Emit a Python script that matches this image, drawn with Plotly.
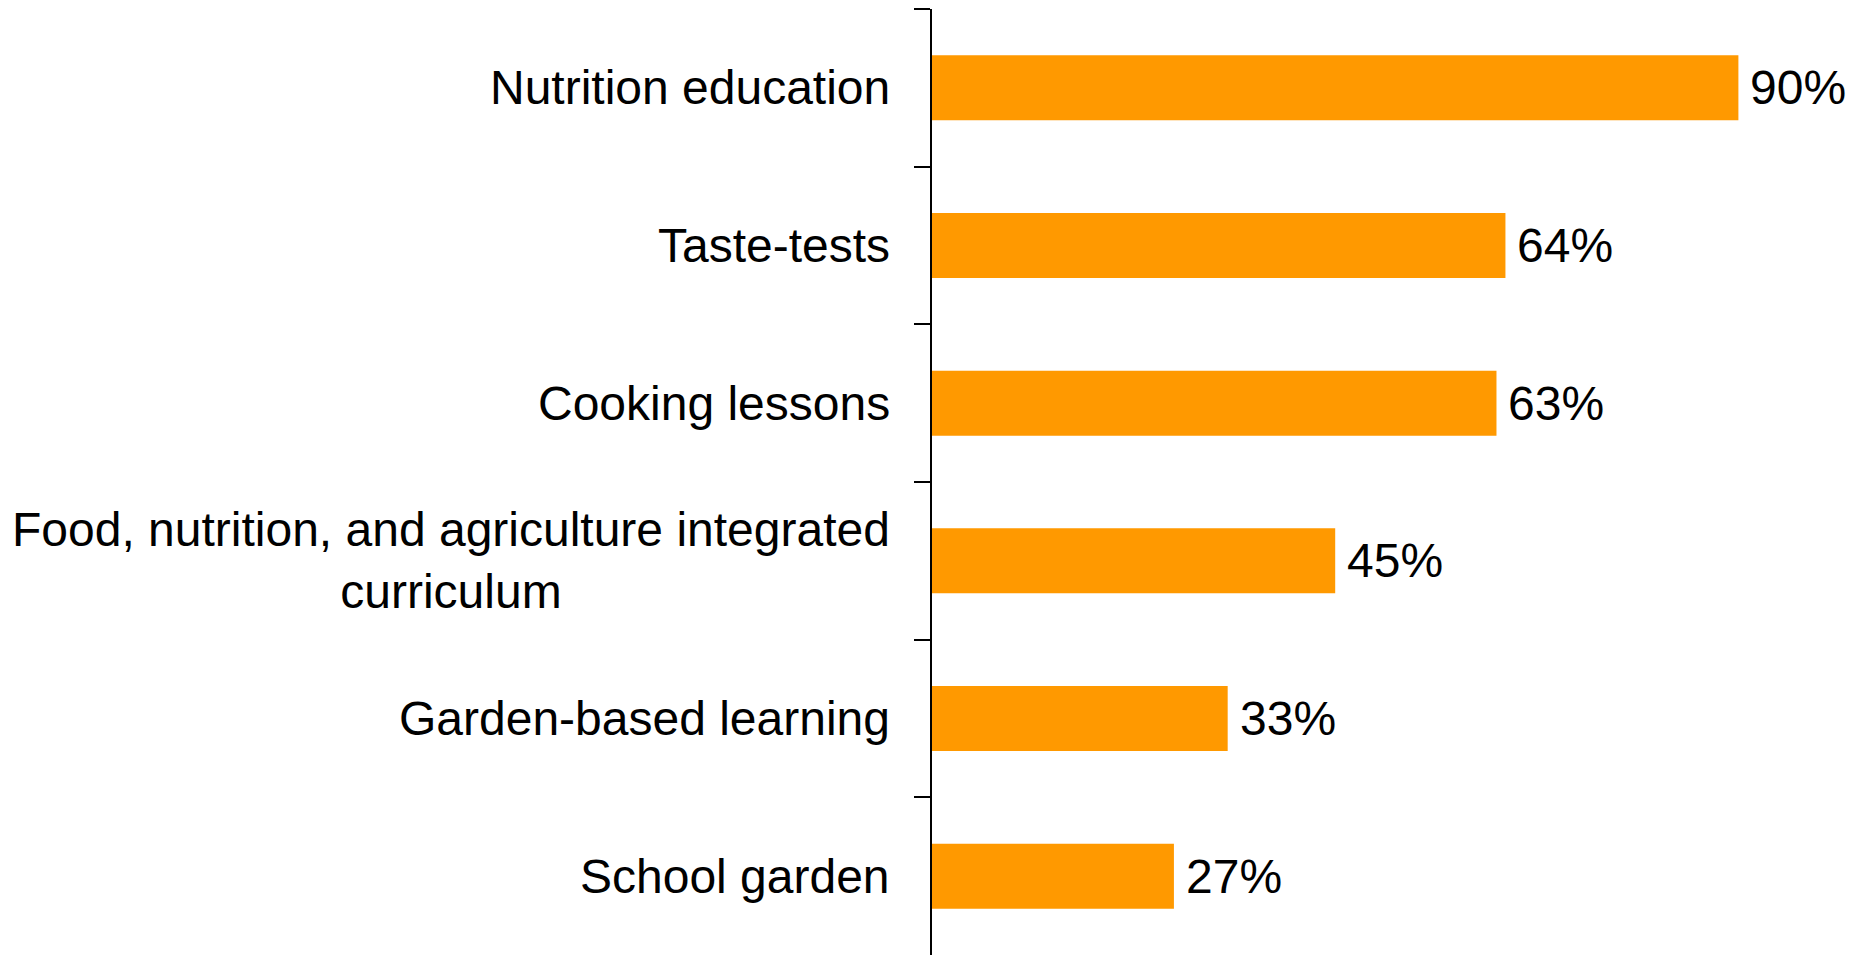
import plotly.graph_objects as go

categories = [
    "Nutrition education",
    "Taste-tests",
    "Cooking lessons",
    "Food, nutrition, and agriculture integrated curriculum",
    "Garden-based learning",
    "School garden",
]
category_labels = [
    "Nutrition education",
    "Taste-tests",
    "Cooking lessons",
    "Food, nutrition, and agriculture integrated<br>curriculum",
    "Garden-based learning",
    "School garden",
]
values = [90, 64, 63, 45, 33, 27]
value_labels = ["90%", "64%", "63%", "45%", "33%", "27%"]

FONT = "Arial, Liberation Sans, sans-serif"
BAR_COLOR = "#FF9900"

fig = go.Figure()
fig.add_trace(go.Bar(
    x=values,
    y=categories,
    orientation="h",
    marker=dict(color=BAR_COLOR, line=dict(width=0)),
    hoverinfo="skip",
))

for cat, lab in zip(categories, category_labels):
    fig.add_annotation(
        x=0, xref="paper", y=cat, yref="y",
        text=lab, showarrow=False,
        xanchor="right", yanchor="middle", align="center",
        xshift=-40,
        font=dict(family=FONT, size=48, color="black"),
    )

for cat, v, vl in zip(categories, values, value_labels):
    fig.add_annotation(
        x=v, xref="x", y=cat, yref="y",
        text=vl, showarrow=False,
        xanchor="left", yanchor="middle",
        xshift=10,
        font=dict(family=FONT, size=48, color="black"),
    )

# page body has an 8px margin; compensate so the plot lands where the reference has it
fig.update_layout(
    width=1848, height=949,
    margin=dict(l=924, r=28, t=1, b=2),
    paper_bgcolor="white", plot_bgcolor="white",
    bargap=0.588,
    showlegend=False,
    font=dict(family=FONT, size=48, color="black"),
)
fig.update_xaxes(visible=False, range=[0, 100], fixedrange=True)
fig.update_yaxes(
    categoryorder="array", categoryarray=categories,
    autorange="reversed",
    showticklabels=False,
    showgrid=False, zeroline=False,
    showline=True, linecolor="black", linewidth=2,
    ticks="outside", tickson="boundaries", ticklen=16, tickwidth=2, tickcolor="black",
)

fig.write_html("out.html")
